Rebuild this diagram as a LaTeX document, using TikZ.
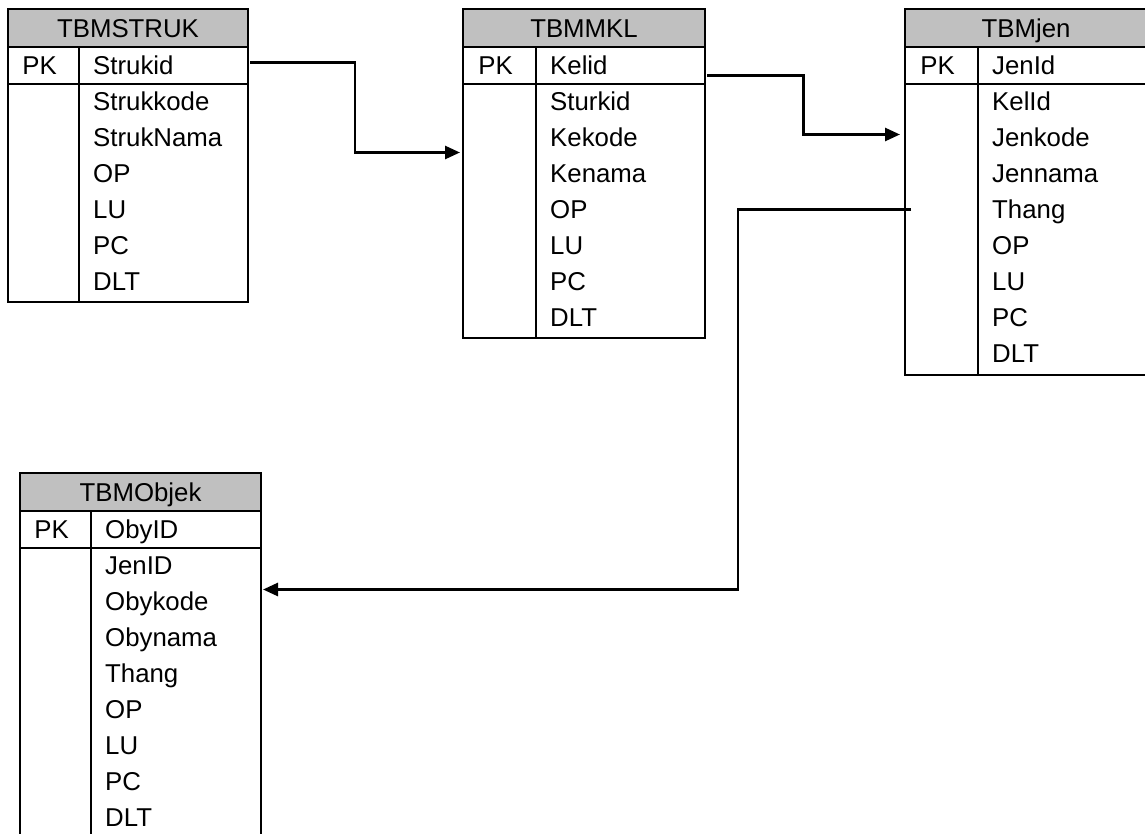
\documentclass[tikz,border=0pt]{standalone}
\usepackage{fontspec}
\setmainfont{Liberation Sans}
\usetikzlibrary{arrows.meta,positioning,calc}
\definecolor{hdrgray}{RGB}{192,192,192}

\begin{document}
\begin{tikzpicture}[x=1pt,y=-1pt,>={Triangle[length=15pt,width=13pt]},
  every node/.style={font=\fontsize{25.8}{31}\selectfont},
  tframe/.style={draw,line width=2pt,inner sep=0pt,outer sep=0pt,anchor=north west},
  tline/.style={line width=2pt},
  thead/.style={inner sep=0pt,text height=18.5pt,text depth=0pt},
  tfield/.style={thead,anchor=west},
  link/.style={line width=2.7pt,->}]
  \useasboundingbox (0,0) rectangle (1145,834);
  \clip (0,0) rectangle (1145,834);
  % tables: name/x/top/width/height/divider/title/key/fields
  \foreach \t/\x/\y/\w/\h/\d/\title/\pk/\fields in {
      struk/8/9/240/293/71/TBMSTRUK/Strukid/{Strukkode,StrukNama,OP,LU,PC,DLT},
      mkl/463/9/242/329/73/TBMMKL/Kelid/{Sturkid,Kekode,Kenama,OP,LU,PC,DLT},
      jen/905/9/242/366/73/TBMjen/JenId/{KelId,Jenkode,Jennama,Thang,OP,LU,PC,DLT},
      oby/20/473/241/400/71/TBMObjek/ObyID/{JenID,Obykode,Obynama,Thang,OP,LU,PC,DLT}}{
    \fill[hdrgray] (\x,\y) rectangle ++(\w,38);
    \node[tframe,minimum width=\w pt,minimum height=\h pt] (\t) at (\x,\y) {};
    \draw[tline] (\x,\y+38) -- ++(\w,0) (\x,\y+75) -- ++(\w,0) (\x+\d,\y+38) -- (\x+\d,\y+\h);
    \node[thead] (\t-head) at (\x+\w/2,\y+19) {\title};
    \node[thead] (\t-pk) at (\x+\d/2-4,\y+56.5) {PK};
    \node[tfield] (\t-key) at (\x+\d+14,\y+56.5) {\pk};
    \foreach \f [count=\i] in \fields
      \node[tfield] (\t-\i) at (\x+\d+14,\y+56.5+36*\i) {\f};
  }
  % relations
  \coordinate (s1) at ($(struk.east |- struk-key)+(2,-3)$);
  \coordinate (e1) at ($(mkl.west |- mkl-2)+(-3,15)$);
  \coordinate (s2) at ($(mkl.east |- mkl-key)+(2,10)$);
  \coordinate (e2) at ($(jen.west |- jen-2)+(-5,-3)$);
  \coordinate (s3) at ($(jen.west |- jen-4)+(6,0)$);
  \coordinate (e3) at ($(oby.east |- oby-1)+(2,24)$);
  \draw[link] (s1) -| ($(s1)!0.5!(e1)$) |- (e1);
  \draw[link] (s2) -| ($(s2)!0.5!(e2)$) |- (e2);
  \draw[link] (s3) -- ++(-173,0) |- (e3);
\end{tikzpicture}
\end{document}
